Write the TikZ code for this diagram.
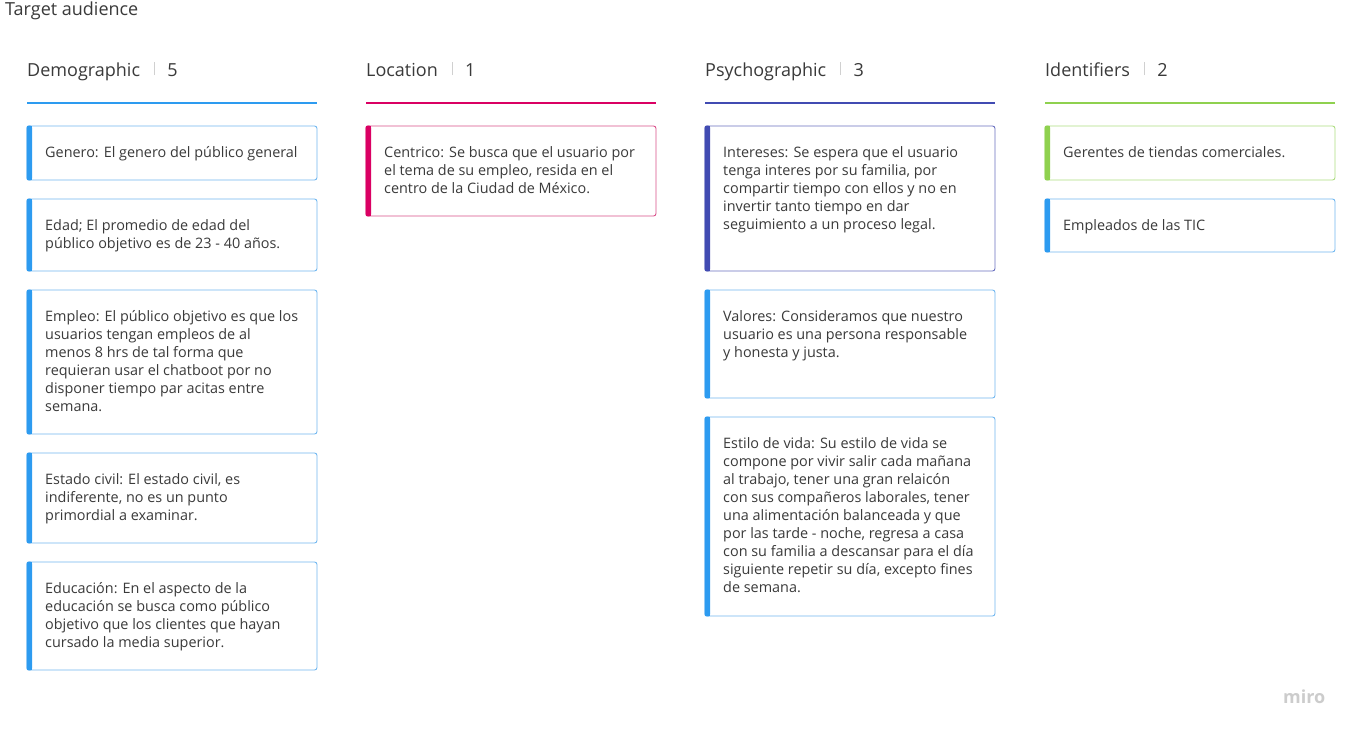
\documentclass[tikz,border=0pt]{standalone}
\usepackage{fontspec}
\setmainfont{Open Sans}
\definecolor{txt}{HTML}{3A3A3A}
\definecolor{mblue}{HTML}{2D9BF0}
\definecolor{mbluel}{HTML}{72B8F0}
\definecolor{mmag}{HTML}{DA0063}
\definecolor{mmagl}{HTML}{D9508A}
\definecolor{mind}{HTML}{414BB2}
\definecolor{mindl}{HTML}{6A70C0}
\definecolor{mgrn}{HTML}{8FD14F}
\definecolor{mgrnl}{HTML}{AEDD82}
\definecolor{sepc}{HTML}{D0D0D0}
\tikzset{
  cardtext/.style={anchor=north west, inner sep=0pt, align=left, text=txt, font=\fontsize{14.4}{18}\selectfont},
  headtext/.style={anchor=base west, inner sep=0pt, text=txt, font=\fontsize{18}{20}\selectfont},
  headline/.style={line width=2pt},
}
% \mycard{name}{x}{top}{bottom}{accent}{border}{text}
\newcommand{\mycard}[7]{%
  \filldraw[fill=white, draw=#6, line width=0.9pt, rounded corners=2.5pt] (#2,#3) rectangle (#2+290,#4);
  \fill[#5, rounded corners=2pt] (#2-0.45,#3-0.45) rectangle (#2+5,#4+0.45);
  \fill[#5] (#2+3,#3-0.45) rectangle (#2+5,#4+0.45);
  \node[cardtext] (#1) at (#2+18,#3+19) {\strut #7};
}
% \myhead{name}{x}{title}{number}{color}
\newcommand{\myhead}[5]{%
  \node[headtext] (#1) at (#2,76) {#3};
  \coordinate (#1s) at ([xshift=14pt]#1.base east);
  \draw[sepc, line width=0.8pt] ([yshift=1pt]#1s) -- ([yshift=14pt]#1s);
  \node[headtext] (#1n) at ([xshift=13pt]#1s) {#4};
  \draw[headline, #5] (#2,103) -- (#2+290,103);
}
\begin{document}
\begin{tikzpicture}[x=1pt,y=-1pt]
\useasboundingbox[fill=white] (0,0) rectangle (1358,736);
\node[anchor=base west, inner sep=0pt, text=txt, font=\fontsize{18}{20}\selectfont] (title) at (5,16) {Target audience};

\myhead{hd}{27}{Demographic}{5}{mblue}
\myhead{hl}{366}{Location}{1}{mmag}
\myhead{hp}{705}{Psychographic}{3}{mind}
\myhead{hi}{1045}{Identifiers}{2}{mgrn}

\mycard{d1}{27}{126}{180}{mblue}{mbluel}{Genero: El genero del público general}
\mycard{d2}{27}{199}{271}{mblue}{mbluel}{Edad; El promedio de edad del\\público objetivo es de 23 - 40 años.}
\mycard{d3}{27}{290}{434}{mblue}{mbluel}{Empleo: El público objetivo es que los\\usuarios tengan empleos de al\\menos 8 hrs de tal forma que\\requieran usar el chatboot por no\\disponer tiempo par acitas entre\\semana.}
\mycard{d4}{27}{453}{543}{mblue}{mbluel}{Estado civil: El estado civil, es\\indiferente, no es un punto\\primordial a examinar.}
\mycard{d5}{27}{562}{670}{mblue}{mbluel}{Educación: En el aspecto de la\\educación se busca como público\\objetivo que los clientes que hayan\\cursado la media superior.}

\mycard{l1}{366}{126}{216}{mmag}{mmagl}{Centrico: Se busca que el usuario por\\el tema de su empleo, resida en el\\centro de la Ciudad de México.}

\mycard{p1}{705}{126}{271}{mind}{mindl}{Intereses: Se espera que el usuario\\tenga interes por su familia, por\\compartir tiempo con ellos y no en\\invertir tanto tiempo en dar\\seguimiento a un proceso legal.}
\mycard{p2}{705}{290}{398}{mblue}{mbluel}{Valores: Consideramos que nuestro\\usuario es una persona responsable\\y honesta y justa.}
\mycard{p3}{705}{417}{616}{mblue}{mbluel}{Estilo de vida: Su estilo de vida se\\compone por vivir salir cada mañana\\al trabajo, tener una gran relaicón\\con sus compañeros laborales, tener\\una alimentación balanceada y que\\por las tarde - noche, regresa a casa\\con su familia a descansar para el día\\siguiente repetir su día, excepto fines\\de semana.}

\mycard{i1}{1045}{126}{180}{mgrn}{mgrnl}{Gerentes de tiendas comerciales.}
\mycard{i2}{1045}{199}{252}{mblue}{mbluel}{Empleados de las TIC}

\node[anchor=base west, inner sep=0pt, text=black!20, font=\fontsize{18}{18}\selectfont\bfseries] (miro) at (1283,703) {miro};
\end{tikzpicture}
\end{document}
